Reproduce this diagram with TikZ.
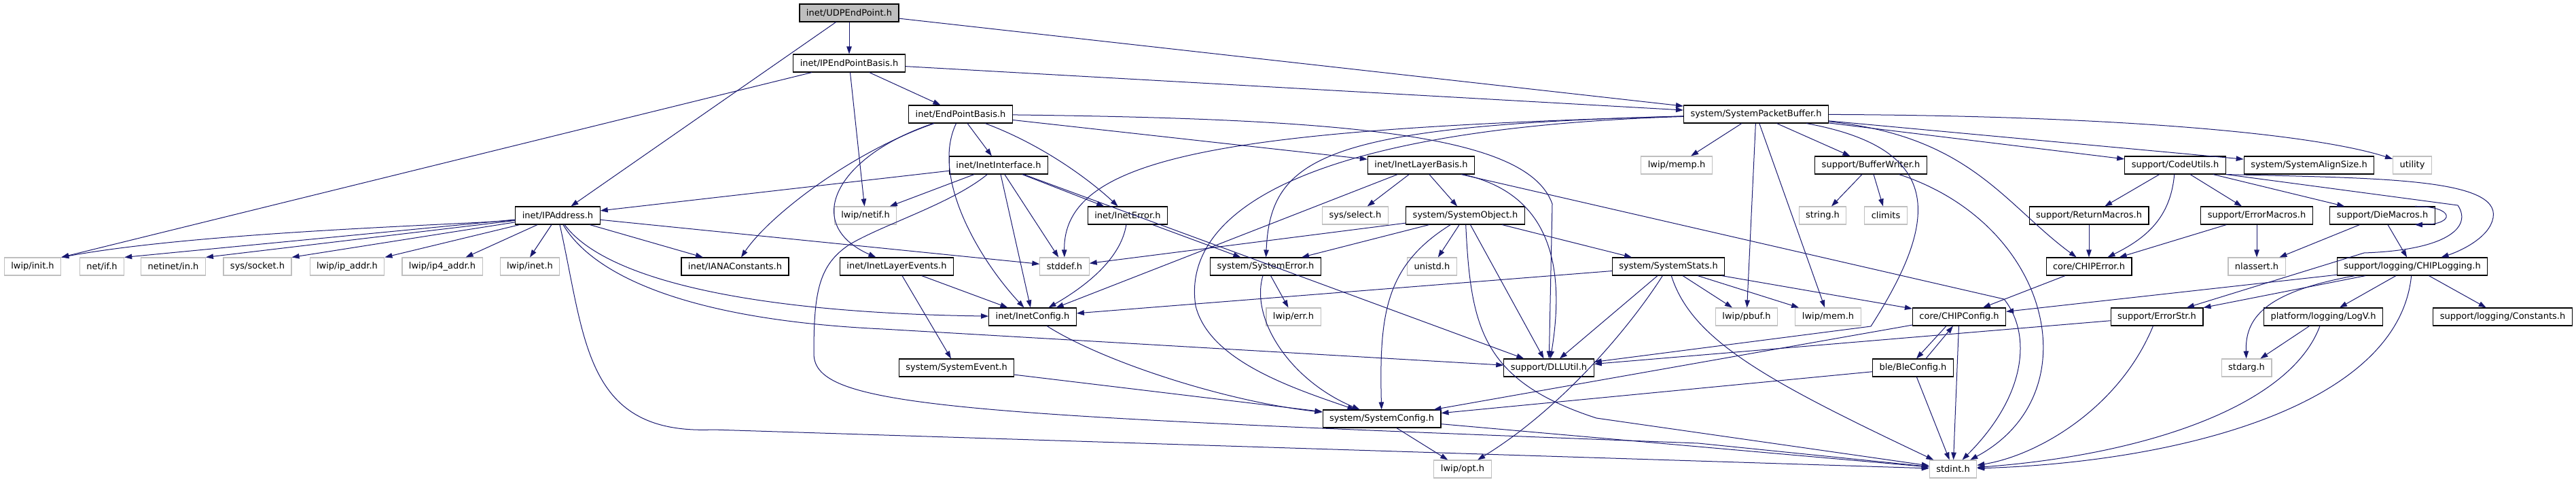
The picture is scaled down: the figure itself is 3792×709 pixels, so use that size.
\documentclass[tikz,border=0pt]{standalone}
\usepackage{fontspec}
\setmainfont{DejaVu Sans}
\usepackage{tikz}
\usetikzlibrary{arrows.meta}
\definecolor{edg}{RGB}{25,25,112}
\definecolor{extg}{RGB}{191,191,191}

\begin{document}
\begin{tikzpicture}[x=1pt,y=-1pt,font=\fontsize{13}{15}\selectfont,>={Triangle[length=11pt,width=7.5pt]},
  hdr/.style={draw=black,fill=white,line width=1.1pt,minimum height=26pt,inner xsep=10pt,inner ysep=0pt},
  sysh/.style={hdr,draw=extg},
  root/.style={hdr,fill=extg},
  inc/.style={->,draw=edg,line width=1pt}]
  \useasboundingbox (0,0) rectangle (3792,709);
  \node[root] (udp) at (1250,19) {inet/UDPEndPoint.h};
  \node[hdr] (ipepb) at (1250,93) {inet/IPEndPointBasis.h};
  \node[hdr] (epb) at (1414,168) {inet/EndPointBasis.h};
  \node[hdr] (spb) at (2585,168) {system/SystemPacketBuffer.h};
  \node[hdr] (iif) at (1470,243) {inet/InetInterface.h};
  \node[hdr] (ilb) at (2092,243) {inet/InetLayerBasis.h};
  \node[sysh] (memp) at (2468,243) {lwip/memp.h};
  \node[hdr] (bw) at (2754,243) {support/BufferWriter.h};
  \node[hdr] (cu) at (3202,243) {support/CodeUtils.h};
  \node[hdr] (sas) at (3399,243) {system/SystemAlignSize.h};
  \node[sysh] (util) at (3551,243) {utility};
  \node[hdr] (ipa) at (821,317) {inet/IPAddress.h};
  \node[sysh] (netif) at (1274,317) {lwip/netif.h};
  \node[hdr] (ie) at (1660,317) {inet/InetError.h};
  \node[sysh] (sel) at (1995,317) {sys/select.h};
  \node[hdr] (so) at (2157,317) {system/SystemObject.h};
  \node[sysh] (strh) at (2683,317) {string.h};
  \node[sysh] (clim) at (2776,317) {climits};
  \node[hdr] (rm) at (3075,317) {support/ReturnMacros.h};
  \node[hdr] (em) at (3322,317) {support/ErrorMacros.h};
  \node[hdr] (dm) at (3507,317) {support/DieMacros.h};
  \node[sysh] (init) at (48,392) {lwip/init.h};
  \node[sysh] (netifh) at (150,392) {net/if.h};
  \node[sysh] (netin) at (255,392) {netinet/in.h};
  \node[sysh] (sock) at (379,392) {sys/socket.h};
  \node[sysh] (ipaddr) at (511,392) {lwip/ip\_addr.h};
  \node[sysh] (ipfour) at (651,392) {lwip/ip4\_addr.h};
  \node[sysh] (inet) at (780,392) {lwip/inet.h};
  \node[hdr] (iana) at (1082,392) {inet/IANAConstants.h};
  \node[hdr] (ile) at (1320,392) {inet/InetLayerEvents.h};
  \node[sysh] (stddef) at (1567,392) {stddef.h};
  \node[hdr] (se) at (1863,392) {system/SystemError.h};
  \node[sysh] (unistd) at (2108,392) {unistd.h};
  \node[hdr] (ss) at (2456,392) {system/SystemStats.h};
  \node[hdr] (ce) at (3075,392) {core/CHIPError.h};
  \node[sysh] (nla) at (3322,392) {nlassert.h};
  \node[hdr] (log) at (3551,392) {support/logging/CHIPLogging.h};
  \node[hdr] (ic) at (1520,466) {inet/InetConfig.h};
  \node[sysh] (err) at (1904,466) {lwip/err.h};
  \node[sysh] (pbuf) at (2571,466) {lwip/pbuf.h};
  \node[sysh] (mem) at (2691,466) {lwip/mem.h};
  \node[hdr] (cc) at (2884,466) {core/CHIPConfig.h};
  \node[hdr] (es) at (3175,466) {support/ErrorStr.h};
  \node[hdr] (logv) at (3420,466) {platform/logging/LogV.h};
  \node[hdr] (lconst) at (3684,466) {support/logging/Constants.h};
  \node[hdr] (sev) at (1408,541) {system/SystemEvent.h};
  \node[hdr] (dll) at (2280,541) {support/DLLUtil.h};
  \node[hdr] (ble) at (2816,541) {ble/BleConfig.h};
  \node[sysh] (stdarg) at (3307,541) {stdarg.h};
  \node[hdr] (sc) at (2034,616) {system/SystemConfig.h};
  \node[sysh] (opt) at (2153,690) {lwip/opt.h};
  \node[sysh] (stdint) at (2875,690) {stdint.h};
  \draw[inc] (udp)--(ipepb); \draw[inc] (udp)--(ipa); \draw[inc] (udp)--(spb);
  \draw[inc] (ipepb)--(epb); \draw[inc] (ipepb)--(spb); \draw[inc] (ipepb)--(netif); \draw[inc] (ipepb)--(init.north east);
  \draw[inc] (epb)--(iif); \draw[inc] (epb)--(ilb);
  \draw[inc] (epb) .. controls (1540,215) and (1610,270) .. (ie);
  \draw[inc] (epb) .. controls (1250,225) and (1130,320) .. (iana);
  \draw[inc] (epb) .. controls (1230,230) and (1180,330) .. (ile);
  \draw[inc] (epb) .. controls (1370,260) and (1440,380) .. (ic);
  \draw[inc] (epb) .. controls (2000,175) and (2250,200) .. (2285,300) -- (dll);
  \draw[inc] (iif)--(ipa); \draw[inc] (iif)--(netif); \draw[inc] (iif)--(ie); \draw[inc] (iif)--(stddef); \draw[inc] (iif)--(ic); \draw[inc] (iif)--(dll);
  \draw[inc] (iif) .. controls (1400,300) and (1300,330) .. (1250,360) .. controls (1205,390) and (1198,430) .. (1198,520) .. controls (1198,600) and (1400,610) .. (2500,652) -- (stdint);
  \draw[inc] (ipa)--(netifh.north east); \draw[inc] (ipa)--(netin.north east); \draw[inc] (ipa)--(sock.north east);
  \draw[inc] (ipa)--(ipaddr.north east); \draw[inc] (ipa)--([xshift=-25pt]ipfour.north east); \draw[inc] (ipa)--(inet.north);
  \draw[inc] (ipa) .. controls (700,330) and (300,340) .. (init.north east);
  \draw[inc] (ipa)--(iana); \draw[inc] (ipa)--(stddef);
  \draw[inc] (ipa) .. controls (890,410) and (1100,460) .. (ic);
  \draw[inc] (ipa) .. controls (870,400) and (1000,470) .. (1300,484) -- (dll);
  \draw[inc] (ipa) .. controls (862,500) and (860,640) .. (1050,632) -- (stdint);
  \draw[inc] (ile)--(ic); \draw[inc] (ile)--(sev); \draw[inc] (sev)--(sc);
  \draw[inc] (ie)--(se); \draw[inc] (ie) .. controls (1650,380) and (1600,420) .. (ic);
  \draw[inc] (ilb)--(ic); \draw[inc] (ilb)--(sel); \draw[inc] (ilb)--(so);
  \draw[inc] (ilb) .. controls (2260,280) and (2310,360) .. (dll);
  \draw[inc] (ilb) -- (2950,440) .. controls (2990,490) and (2985,580) .. (stdint);
  \draw[inc] (so)--(stddef); \draw[inc] (so)--(se); \draw[inc] (so)--(unistd); \draw[inc] (so)--(ss); \draw[inc] (so)--(dll);
  \draw[inc] (so) .. controls (2040,390) and (2030,460) .. (sc);
  \draw[inc] (so) .. controls (2165,480) and (2180,560) .. (2350,615) -- (stdint);
  \draw[inc] (spb)--(memp); \draw[inc] (spb)--(bw); \draw[inc] (spb)--(cu); \draw[inc] (spb)--(sas); \draw[inc] (spb)--(pbuf); \draw[inc] (spb)--(mem);
  \draw[inc] (spb) .. controls (3100,170) and (3400,195) .. (util);
  \draw[inc] (spb) .. controls (1800,190) and (1565,230) .. (stddef);
  \draw[inc] (spb) .. controls (1950,185) and (1870,230) .. (se);
  \draw[inc] (spb) .. controls (1900,190) and (1740,320) .. (1760,450) .. controls (1780,530) and (1900,570) .. (sc);
  \draw[inc] (spb) .. controls (2870,220) and (2850,330) .. (2754,480) -- (dll);
  \draw[inc] (spb) .. controls (2900,200) and (2950,300) .. (ce);
  \draw[inc] (bw)--(strh); \draw[inc] (bw)--(clim);
  \draw[inc] (bw) .. controls (3020,330) and (3080,580) .. (stdint);
  \draw[inc] (cu)--(rm); \draw[inc] (cu)--(em); \draw[inc] (cu)--(dm);
  \draw[inc] (cu) .. controls (3195,320) and (3160,350) .. (ce);
  \draw[inc] (cu.south east) -- (3618,302) .. controls (3640,335) and (3600,368) .. (3480,372) -- (es);
  \draw[inc] (cu.south east) .. controls (3500,262) and (3680,262) .. (3670,320) .. controls (3665,350) and (3620,370) .. (log);
  \draw[inc] (rm)--(ce); \draw[inc] (em)--(ce); \draw[inc] (em)--(nla); \draw[inc] (dm)--(nla); \draw[inc] (dm)--(log);
  \draw[inc] ([xshift=-30pt]dm.north east) .. controls +(60pt,0) and +(60pt,0) .. ([xshift=-30pt]dm.south east);
  \draw[inc] (ce)--(cc);
  \draw[inc] (log)--(cc); \draw[inc] (log)--(es); \draw[inc] (log)--(logv); \draw[inc] (log)--(lconst);
  \draw[inc] ([xshift=27pt]log.south west) .. controls (3330,430) and (3305,470) .. (stdarg);
  \draw[inc] (log) .. controls (3530,600) and (3200,680) .. (stdint);
  \draw[inc] (ss)--(ic); \draw[inc] (ss)--(dll); \draw[inc] (ss)--(pbuf); \draw[inc] (ss)--(mem); \draw[inc] (ss)--(cc);
  \draw[inc] (ss) .. controls (2400,480) and (2300,600) .. (opt);
  \draw[inc] (ss) .. controls (2490,500) and (2600,560) .. (stdint);
  \draw[inc] (cc)--(sc); \draw[inc] (cc)--(stdint);
  \draw[inc] ([xshift=-19pt]cc.south)--([xshift=5pt]ble.north); \draw[inc] ([xshift=19pt]ble.north)--([xshift=-9pt]cc.south);
  \draw[inc] (ble)--(sc); \draw[inc] (ble)--(stdint);
  \draw[inc] (es)--(dll); \draw[inc] (es) .. controls (3120,600) and (3000,670) .. (stdint);
  \draw[inc] (logv)--(stdarg); \draw[inc] (logv) .. controls (3370,600) and (3150,670) .. (stdint);
  \draw[inc] (se)--(err); \draw[inc] (se) .. controls (1840,470) and (1900,560) .. (sc);
  \draw[inc] (ic) .. controls (1620,530) and (1800,590) .. (sc);
  \draw[inc] (sc)--(opt); \draw[inc] (sc)--(stdint);
\end{tikzpicture}
\end{document}
